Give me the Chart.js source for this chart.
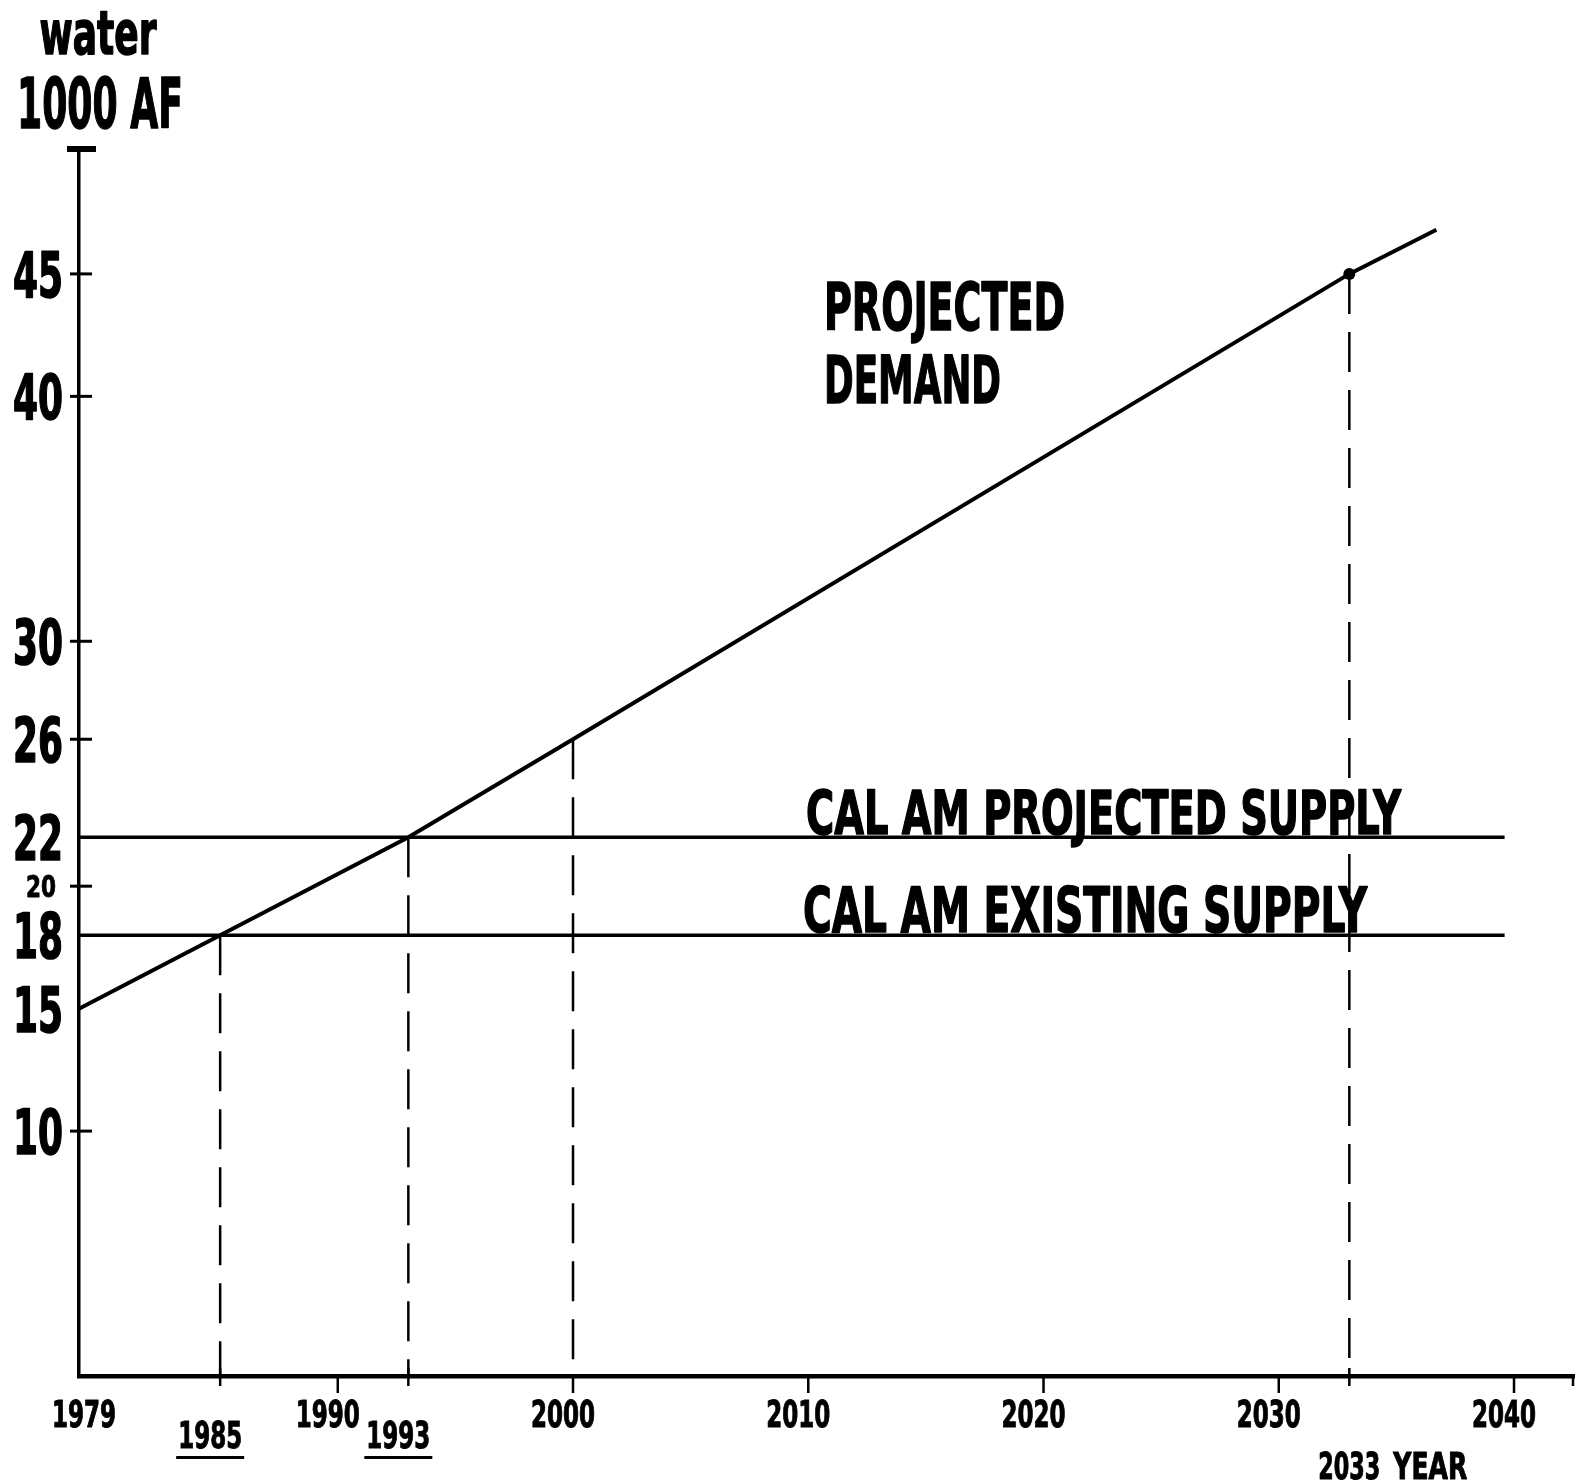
<!DOCTYPE html>
<html>
<head>
<meta charset="utf-8">
<script src="https://cdn.jsdelivr.net/npm/chart.js@4.4.1/dist/chart.umd.min.js"></script>
<style>
html,body{margin:0;padding:0;background:#fff;}
canvas{display:block;}
</style>
</head>
<body>
<canvas id="c" width="1580" height="1482"></canvas>
<script>
// ---- data ----
const demandYears = [1979, 1985, 1993, 2000, 2033, 2036.7];
const projectedDemand = [15, 18, 22, 26, 45, 46.8];
const supplyYears = [1979, 2039.6];
const projectedSupply = [22, 22];
const existingSupply = [18, 18];
const markerYears = [1985, 1993, 2000, 2033];
const markerValues = [18, 22, 26, 45];
const dotYears = [2033];
const xTickValues = [1979, 1985, 1990, 1993, 2000, 2010, 2020, 2030, 2040];
const xTickLabels = ['1979', '1985', '1990', '1993', '2000', '2010', '2020', '2030', '2040'];
const underlinedYears = [1985, 1993];
const yearNote = '2033';
const xTitle = 'YEAR';
const yTickValues = [10, 15, 18, 20, 22, 26, 30, 40, 45];
const yTickLabels = ['10', '15', '18', '20', '22', '26', '30', '40', '45'];
const smallYTick = 20;
const yTitle = ['water', '1000 AF'];
const demandLabel = ['PROJECTED', 'DEMAND'];
const projectedSupplyLabel = 'CAL AM PROJECTED SUPPLY';
const existingSupplyLabel = 'CAL AM EXISTING SUPPLY';

// ---- drawing helpers ----
const FONT = '"Liberation Sans Narrow", "DejaVu Sans Condensed", "Liberation Sans", sans-serif';
function txt(ctx, s, x, y, size, sx, align, heavy) {
  ctx.save();
  ctx.font = 'bold ' + size + 'px ' + FONT;
  ctx.textAlign = align || 'left';
  ctx.textBaseline = 'alphabetic';
  ctx.fillStyle = '#000';
  ctx.strokeStyle = '#000';
  ctx.translate(x, y);
  ctx.scale(sx, 1);
  ctx.fillText(s, 0, 0);
  if (heavy) { ctx.lineWidth = heavy; ctx.lineJoin = 'round'; ctx.strokeText(s, 0, 0); }
  ctx.restore();
}
function txtW(ctx, s, size) {
  ctx.save();
  ctx.font = 'bold ' + size + 'px ' + FONT;
  const w = ctx.measureText(s).width;
  ctx.restore();
  return w;
}
function txtFit(ctx, s, x, y, size, width, align, heavy) {
  txt(ctx, s, x, y, size, width / txtW(ctx, s, size), align, heavy);
}
function seg(ctx, x1, y1, x2, y2, w) {
  ctx.save();
  ctx.strokeStyle = '#000';
  ctx.lineWidth = w;
  ctx.setLineDash([]);
  ctx.beginPath();
  ctx.moveTo(x1, y1);
  ctx.lineTo(x2, y2);
  ctx.stroke();
  ctx.restore();
}

const paper = {
  id: 'paper',
  afterDraw(chart) {
    const ctx = chart.ctx;
    const xs = chart.scales.x, ys = chart.scales.y, a = chart.chartArea;
    // cap at the top of the value axis
    ctx.fillStyle = '#000';
    ctx.fillRect(a.left - 12, a.top - 3, 29, 6);

    // value axis ticks + labels
    const starts = [projectedDemand[0], projectedSupply[0], existingSupply[0]];
    yTickValues.forEach((v, i) => {
      const py = ys.getPixelForValue(v);
      if (!starts.includes(v)) seg(ctx, a.left - 9, py, a.left + 13, py, 3);
      if (v === smallYTick) {
        txtFit(ctx, yTickLabels[i], a.left - 23, py + 11, 30, 30, 'right', 0.8);
      } else {
        txtFit(ctx, yTickLabels[i], a.left - 16, py + 23, 63, 50, 'right', 1.6);
      }
    });

    // year axis ticks + labels
    xTickValues.forEach((v, i) => {
      const px = xs.getPixelForValue(v);
      const under = underlinedYears.includes(v);
      if (v !== xs.min) {
        if (under) seg(ctx, px, a.bottom - 8, px, a.bottom + 10, 2.5);
        else seg(ctx, px, a.bottom, px, a.bottom + 17, 2.5);
      }
      const lx = v === xs.min ? px + 5 : px - 10;
      const base = under ? a.bottom + 72 : a.bottom + 51;
      txtFit(ctx, xTickLabels[i], lx, base, 38, 64, 'center', 1);
      if (under) ctx.fillRect(lx - 34, a.bottom + 80, 68, 3);
    });
    // end of the year axis
    seg(ctx, a.right - 1, a.bottom, a.right - 1, a.bottom + 10, 2.5);
    // 2033 marker crossing + note
    const p33 = xs.getPixelForValue(Number(yearNote));
    seg(ctx, p33, a.bottom - 8, p33, a.bottom + 10, 2.5);
    txtFit(ctx, yearNote, p33, a.bottom + 103, 37, 62, 'center', 1);
    txtFit(ctx, xTitle, p33 + 44, a.bottom + 103, 37, 74, 'left', 1);

    // axis title
    txtFit(ctx, yTitle[0], 98, 54, 60, 117, 'center', 1.5);
    txtFit(ctx, yTitle[1], 100, 128, 70, 166, 'center', 1.5);

    // series labels
    txtFit(ctx, demandLabel[0], 824, 330, 65, 241, 'left', 1.5);
    txtFit(ctx, demandLabel[1], 824, 403, 65, 177, 'left', 1.5);
    txtFit(ctx, projectedSupplyLabel, 806, ys.getPixelForValue(22) - 3, 61, 595, 'left', 1.5);
    txtFit(ctx, existingSupplyLabel, 803, ys.getPixelForValue(18) - 3, 63, 564, 'left', 1.5);
  }
};

const pts = (xsArr, ysArr) => xsArr.map((x, i) => ({ x: x, y: ysArr[i] }));

const datasets = [
  { label: 'Projected demand', data: pts(demandYears, projectedDemand),
    borderColor: '#000', borderWidth: 4, pointRadius: 0, tension: 0 },
  { label: 'Cal Am projected supply', data: pts(supplyYears, projectedSupply),
    borderColor: '#000', borderWidth: 3.5, pointRadius: 0 },
  { label: 'Cal Am existing supply', data: pts(supplyYears, existingSupply),
    borderColor: '#000', borderWidth: 3.5, pointRadius: 0 }
];
markerYears.forEach((yr, i) => {
  datasets.push({
    label: 'Year ' + yr,
    data: [{ x: yr, y: markerValues[i] }, { x: yr, y: 0 }],
    borderColor: '#000', borderWidth: 2.5, borderDash: [40, 18],
    pointRadius: dotYears.includes(yr) ? [6, 0] : 0,
    pointBackgroundColor: '#000', pointBorderColor: '#000', pointBorderWidth: 0
  });
});

new Chart(document.getElementById('c'), {
  type: 'line',
  data: { datasets: datasets },
  options: {
    responsive: false,
    animation: false,
    devicePixelRatio: 1,
    layout: { padding: { top: 149, right: 3, left: 0, bottom: 0 } },
    plugins: { legend: { display: false }, tooltip: { enabled: false }, title: { display: false } },
    scales: {
      x: {
        type: 'linear', min: 1979, max: 2042.55,
        grid: { display: false, drawTicks: false },
        border: { display: true, color: '#000', width: 4.5 },
        ticks: { display: false },
        afterFit: s => { s.height = 106; }
      },
      y: {
        type: 'linear', min: 0, max: 50.1,
        grid: { display: false, drawTicks: false },
        border: { display: true, color: '#000', width: 3.5 },
        ticks: { display: false },
        afterFit: s => { s.width = 79; }
      }
    }
  },
  plugins: [paper]
});
</script>
</body>
</html>
